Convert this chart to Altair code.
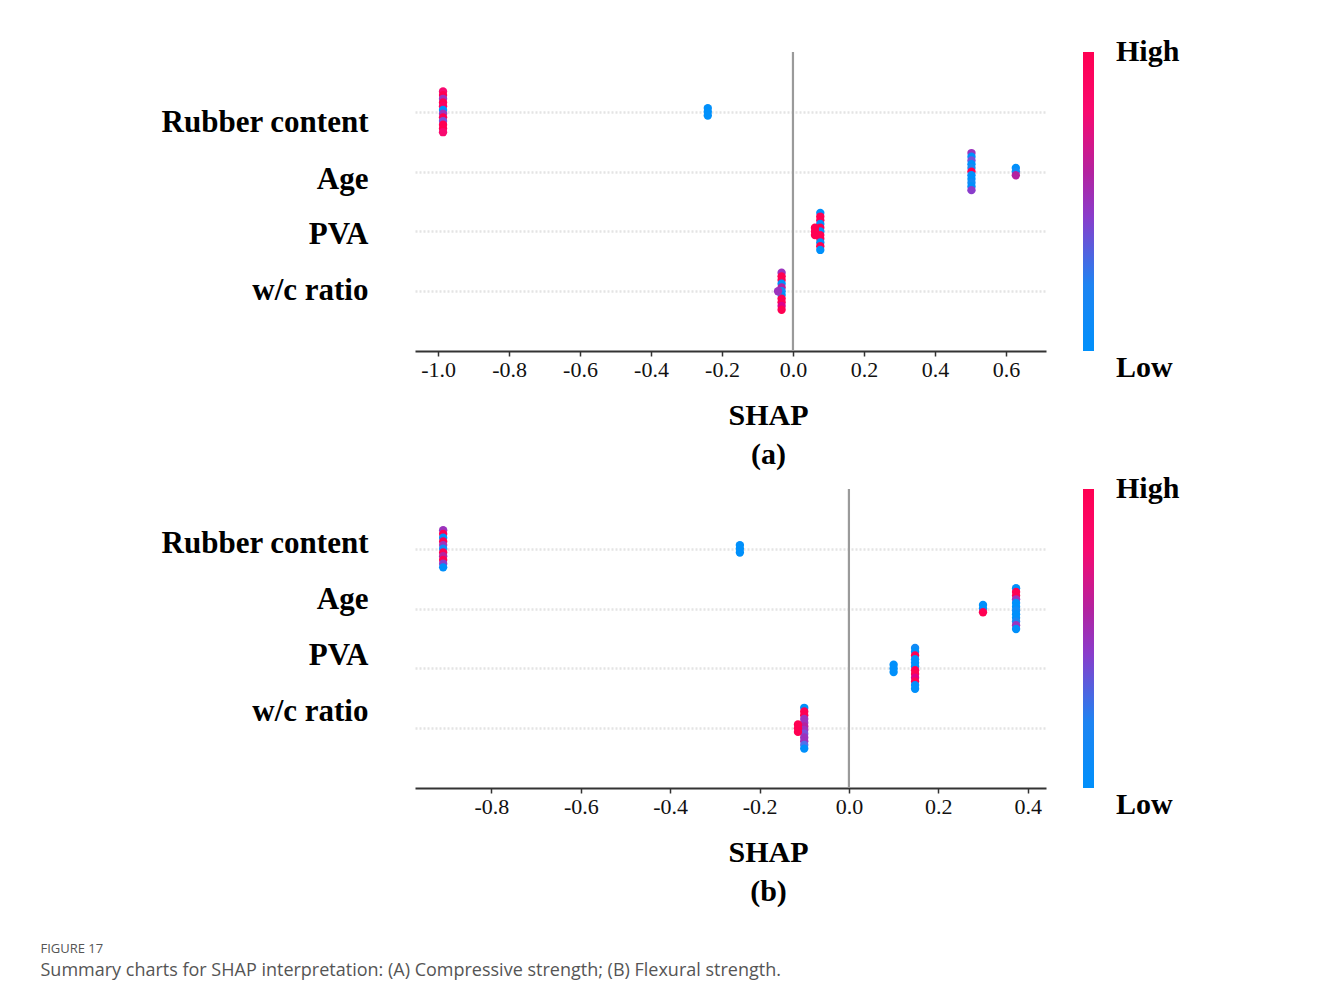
import altair as alt
import pandas as pd

features = ["Rubber content", "Age", "PVA", "w/c ratio"]

# Each cluster: (feature, SHAP value, feature values of its points top->bottom; 0 = low, 1 = high)
clusters_a = [
    ("Rubber content", -0.986, [0.8, 1, 0.5, 1, 0.9, 0.0, 0.5, 1, 0.4, 1, 1, 0.8]),
    ("Rubber content", -0.240, [0.0, 0.0, 0.0]),
    ("Age", 0.503, [0.5, 0.0, 0.4, 0.0, 0.15, 1, 0.0, 0.0, 0.1, 0.0, 0.45]),
    ("Age", 0.628, [0.0, 0.1, 0.6]),
    ("PVA", 0.077, [0.0, 1, 1, 0.0, 1, 0.0, 1, 1, 0.0, 1, 0.0]),
    ("PVA", 0.062, [1, 1, 1]),
    ("w/c ratio", -0.032, [0.5, 1, 1, 0.0, 0.6, 0.1, 0.0, 1, 1, 0.7, 1]),
    ("w/c ratio", -0.042, [0.5]),
]

clusters_b = [
    ("Rubber content", -0.908, [0.5, 1, 0.0, 1, 0.5, 0.1, 1, 0.6, 1, 0.45, 0.0]),
    ("Rubber content", -0.244, [0.0, 0.0, 0.0]),
    ("Age", 0.300, [0.0, 0.0, 1]),
    ("Age", 0.374, [0.0, 1, 1, 0.5, 0.0, 0.0, 0.1, 0.0, 0.0, 0.2, 0.5, 0.0]),
    ("PVA", 0.100, [0.0, 0.0, 0.0]),
    ("PVA", 0.148, [0.1, 0.0, 1, 0.0, 0.0, 0.0, 1, 1, 0.7, 1, 0.0, 0.0]),
    ("w/c ratio", -0.100, [0.0, 1, 1, 0.5, 0.5, 0.6, 0.5, 0.4, 0.5, 0.5, 0.3, 0.0]),
    ("w/c ratio", -0.114, [1, 1, 1]),
]

ticks_a = [-1.0, -0.8, -0.6, -0.4, -0.2, 0.0, 0.2, 0.4, 0.6]
ticks_b = [-0.8, -0.6, -0.4, -0.2, 0.0, 0.2, 0.4]
domain_a = [-1.065, 0.713]
domain_b = [-0.971, 0.441]

color_stops = [0.0, 0.22, 0.45, 0.6, 0.8, 1.0]
color_range = ["#0090fb", "#1e84f2", "#8a3ccb", "#b4229f", "#f8096f", "#ff0052"]

caption_title = "FIGURE 17"
caption_text = "Summary charts for SHAP interpretation: (A) Compressive strength; (B) Flexural strength."

SERIF = "Liberation Serif"
STACK = 0.062  # vertical stacking step of the swarm, in row units


def build(clusters):
    rows = []
    n_feat = len(features)
    for feat, shap, vals in clusters:
        base = n_feat - features.index(feat)
        n = len(vals)
        for i, v in enumerate(vals):
            rows.append({"feature": feat, "shap": shap, "value": v,
                         "y": base + ((n - 1) / 2 - i) * STACK})
    return pd.DataFrame(rows)


label_expr = " : ".join(
    f"datum.value == {len(features) - i} ? '{f}'" for i, f in enumerate(features)
) + " : ''"

color_scale = alt.Scale(domain=color_stops, range=color_range)


def panel(clusters, xdomain, xticks, letter, offsets):
    df = build(clusters)
    cond = [{"test": f"datum.value == {len(features) - i}", "value": o}
            for i, o in enumerate(offsets)]
    x = alt.X("shap:Q",
              scale=alt.Scale(domain=xdomain, nice=False, zero=False),
              axis=alt.Axis(values=xticks, grid=False,
                            labelExpr="replace(format(datum.value, '.1f'), '\u2212', '-')",
                            title=["SHAP", letter], titleX=353, titlePadding=20,
                            titleFont=SERIF, titleFontSize=30, titleFontWeight="bold",
                            titleColor="#000", titleLineHeight=39,
                            labelFont=SERIF, labelFontSize=22, labelColor="#111",
                            labelPadding=3, domainColor="#333", domainWidth=2,
                            tickColor="#333", tickWidth=1.5, tickSize=5))
    y = alt.Y("y:Q",
              scale=alt.Scale(domain=[0, 5], nice=False, zero=False),
              axis=alt.Axis(values=[1, 2, 3, 4], labelExpr=label_expr, title=None,
                            grid=True, gridColor="#e4e4e4", gridDash=[2, 2], gridWidth=2.5,
                            domain=False, ticks=False, labelPadding=47, labelLimit=0,
                            labelFont=SERIF, labelFontSize=31, labelFontWeight="bold",
                            labelColor="#000",
                            labelOffset={"condition": cond, "value": 0}))
    zero = alt.Chart(pd.DataFrame({"shap": [0.0]})).mark_rule(
        color="#9a9a9a", strokeWidth=2.2).encode(x=x)
    pts = alt.Chart(df).mark_circle(size=70, opacity=1).encode(
        x=x, y=y,
        color=alt.Color("value:Q", scale=color_scale, legend=None))
    plot = alt.layer(zero, pts).properties(width=631, height=299)

    bar = alt.Chart(pd.DataFrame({"lo": [0.0], "hi": [1.0]})).mark_rect(
        color=alt.LinearGradient(
            gradient="linear", x1=0, x2=0, y1=1, y2=0,
            stops=[alt.GradientStop(offset=o, color=c) for o, c in zip(color_stops, color_range)])
    ).encode(y=alt.Y("lo:Q", scale=alt.Scale(domain=[0, 1]), axis=None), y2="hi:Q")
    lab = pd.DataFrame({"label": ["High", "Low"], "pos": [1.0, 0.0]})
    high = alt.Chart(lab).transform_filter("datum.pos == 1").mark_text(
        align="left", baseline="middle", font=SERIF, fontSize=30, fontWeight="bold",
        color="#000", dx=33).encode(x=alt.value(0), y="pos:Q", text="label:N")
    low = alt.Chart(lab).transform_filter("datum.pos == 0").mark_text(
        align="left", baseline="top", font=SERIF, fontSize=30, fontWeight="bold",
        color="#000", dx=33, dy=2).encode(x=alt.value(0), y="pos:Q", text="label:N")
    cbar = alt.layer(bar, high, low).properties(width=11, height=299)
    return alt.hconcat(plot, cbar, spacing=37)


top = panel(clusters_a, domain_a, ticks_a, "(a)", [11, 8, 3, -1])
bottom = panel(clusters_b, domain_b, ticks_b, "(b)", [-5, -9, -13, -17])

chart = alt.vconcat(top, bottom, spacing=5).properties(
    padding={"left": 32, "top": 29, "right": 10, "bottom": 20},
    title=alt.TitleParams(
        text=caption_title, subtitle=caption_text, orient="bottom", anchor="start",
        dx=-120, offset=37, font="Open Sans", fontSize=13, fontWeight="normal", color="#555",
        subtitleFont="Open Sans", subtitleFontSize=18, subtitleColor="#555", subtitlePadding=6)
).configure_view(stroke=None)

chart.save("out.html", embed_options={"renderer": "svg", "actions": False})
